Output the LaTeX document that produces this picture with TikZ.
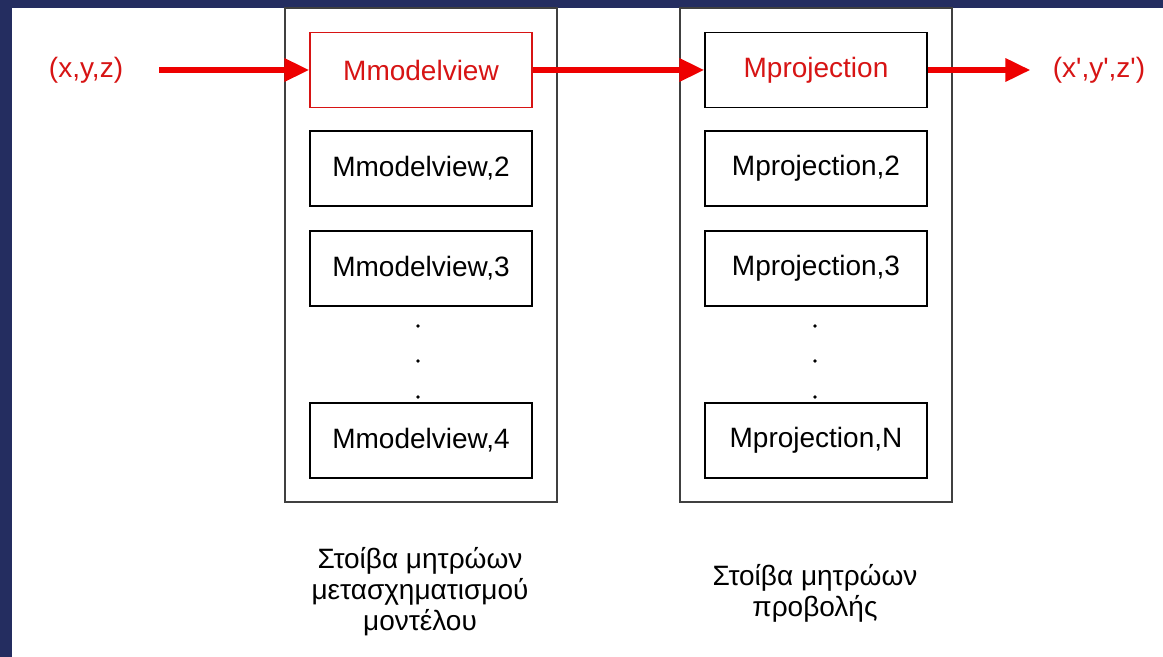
\documentclass[tikz,border=0pt]{standalone}
\usepackage{fontspec}
\setmainfont{Liberation Sans}
\usetikzlibrary{arrows.meta}
\definecolor{slidenavy}{RGB}{36,45,96}
\definecolor{matred}{RGB}{215,20,20}
\definecolor{flowred}{RGB}{238,0,0}
\newcommand{\stackdots}[1]{\foreach \y in {326,361,397} {\fill (#1,\y) circle (0.9pt);}}
\newcommand{\pr}{\textquotesingle}
\tikzset{
  mat/.style={draw=black,line width=0.6pt,minimum width=111pt,minimum height=37.5pt,inner sep=0pt,font=\fontsize{14}{16}\selectfont},
  stack/.style={draw=black!75,line width=0.8pt,minimum width=136pt,minimum height=247pt,inner sep=0pt},
  flow/.style={flowred,line width=3pt,-{Triangle[length=12.5pt,width=11pt]}},
  coord/.style={text=matred,inner sep=0pt,font=\fontsize{14}{16}\selectfont},
  caption/.style={align=center,font=\fontsize{14}{15.5}\selectfont},
}

\begin{document}
\begin{tikzpicture}[x=0.5pt,y=-0.5pt]
    \useasboundingbox (0,0) rectangle (1163,657);
    \fill[white] (0,0) rectangle (1163,657);
    \fill[slidenavy] (0,0) rectangle (1163,8);
    \fill[slidenavy] (0,0) rectangle (12,657);
    %stacks
    \node[stack] (mvstack) at (421,255) {};
    \node[stack] (mpstack) at (816,255) {};

    \node[mat,draw=matred,text=matred] (mv1) at (421,70) {Mmodelview};
    \node[mat] (mv2) at (421,168.5) {Mmodelview,2};
    \node[mat] (mv3) at (421,268.5) {Mmodelview,3};
    \node[mat] (mv4) at (421,440.5) {Mmodelview,4};

    \node[mat,text=matred] (mp1) at (816,70) {Mprojection};
    \node[mat] (mp2) at (816,168.5) {Mprojection,2};
    \node[mat] (mp3) at (816,268.5) {Mprojection,3};
    \node[mat] (mpN) at (816,440.5) {Mprojection,N};

    \stackdots{418}
    \stackdots{815}
    %flow of the vertex
    \node[coord] (inxyz) at (86,70) {(x,y,z)};
    \node[coord] (outxyz) at (1099,70) {(x\pr,y\pr,z\pr)};
    \draw[flow,shorten <=18pt] (inxyz) -- (mv1);
    \draw[flow] (mv1) -- (mp1);
    \draw[flow,shorten >=11pt] (mp1) -- (outxyz);

    \node[caption] (mvcap) at (420,592) {Στοίβα μητρώων\\μετασχηματισμού\\μοντέλου};
    \node[caption] (mpcap) at (815,593) {Στοίβα μητρώων\\προβολής};
\end{tikzpicture}
\end{document}
